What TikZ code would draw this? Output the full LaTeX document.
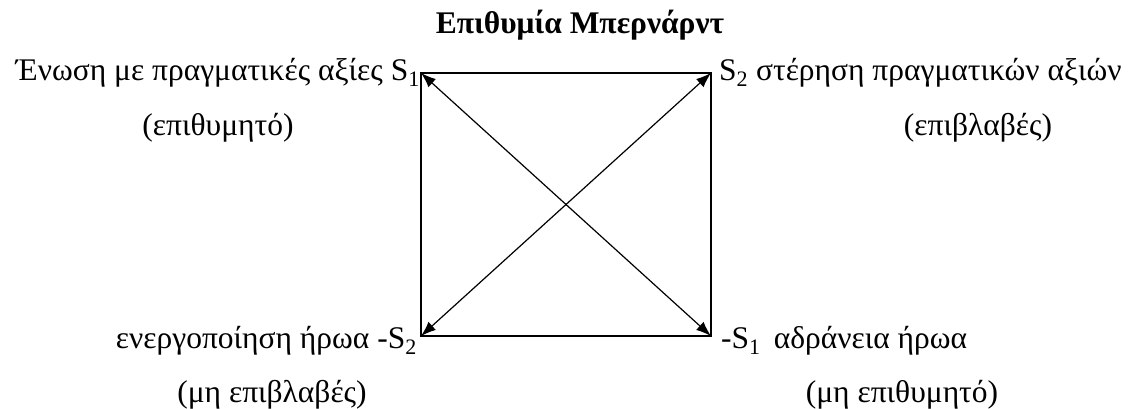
\documentclass[tikz,border=0pt]{standalone}
\usepackage{fontspec}
\setmainfont{Liberation Serif}
\usetikzlibrary{arrows.meta}
\begin{document}
\begin{tikzpicture}[x=1pt,y=-1pt,
  lbl/.style={inner sep=0pt,font=\fontsize{31.5}{36}\selectfont},
  side/.style={line width=1.5pt},
  diag/.style={line width=1.2pt,{Latex[length=15pt,width=11pt]}-{Latex[length=15pt,width=11pt]}}]
\useasboundingbox (0,0) rectangle (1133,409);
\coordinate (tl) at (421,73);
\coordinate (tr) at (711,73);
\coordinate (bl) at (421,336);
\coordinate (br) at (711,336);
\node[lbl,font=\fontsize{31.5}{36}\selectfont\bfseries] (title) at (580,25) {Επιθυμία Μπερνάρντ};
\node[lbl,anchor=east] (a) at ([xshift=-1pt]tl) {Ένωση με πραγματικές αξίες S\textsubscript{1}};
\node[lbl] (a2) at (218,128) {(επιθυμητό)};
\node[lbl,anchor=west] (b) at ([xshift=8pt]tr) {S\textsubscript{2} στέρηση πραγματικών αξιών};
\node[lbl] (b2) at (978,128) {(επιβλαβές)};
\node[lbl,anchor=east] (c) at ([xshift=-4pt,yshift=-5pt]bl) {ενεργοποίηση ήρωα -S\textsubscript{2}};
\node[lbl] (c2) at (272,395) {(μη επιβλαβές)};
\node[lbl,anchor=west] (d) at ([xshift=10pt,yshift=-5pt]br) {-S\textsubscript{1}\, αδράνεια ήρωα};
\node[lbl] (d2) at (902,395) {(μη επιθυμητό)};
\draw[side] (tl) -- (tr) -- (br) -- (bl) -- cycle;
\draw[diag] (tl) -- (br);
\draw[diag] (tr) -- (bl);
\end{tikzpicture}
\end{document}
